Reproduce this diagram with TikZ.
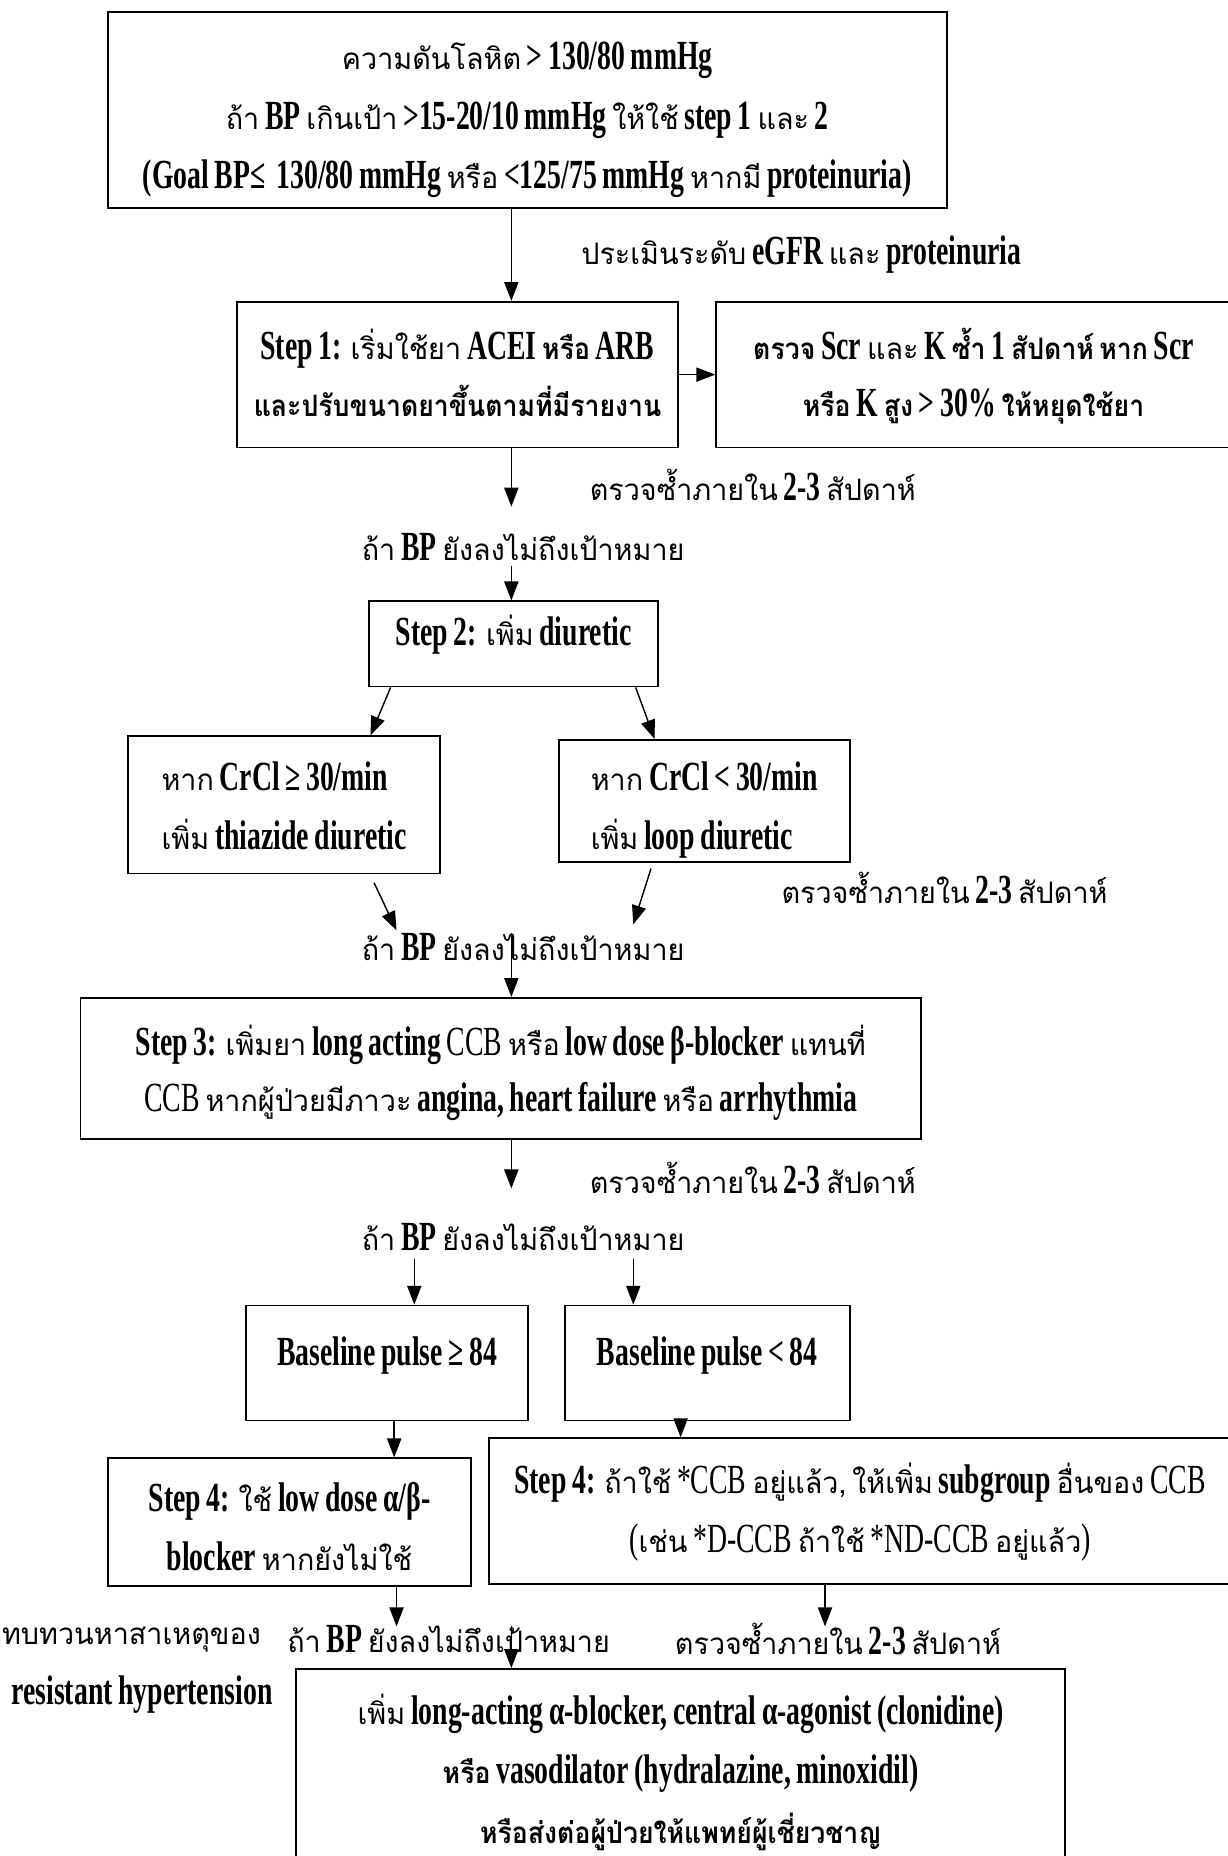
\documentclass[tikz,border=0pt]{standalone}
\usepackage{fontspec}
\usepackage{tikz}
\usetikzlibrary{arrows.meta}
\setmainfont{Loma}[Script=Thai,WordSpace=0.6,FakeStretch=0.97,BoldFeatures={FakeStretch=0.9}]
\newfontfamily\enfont{Liberation Serif}[FakeStretch=0.67,Scale=1.4,WordSpace=0.8]
\newcommand{\en}[1]{{\enfont\bfseries #1}}
\newcommand{\enr}[1]{{\enfont #1}}
\setlength{\lineskiplimit}{-100pt}

\begin{document}
\begin{tikzpicture}[x=1pt,y=-1pt,
  box/.style={draw,line width=1.5pt,inner sep=0pt,align=center,text depth=10pt,
    font=\fontsize{25}{50}\selectfont},
  lbl/.style={inner sep=0pt,font=\fontsize{25}{50}\selectfont},
  arr/.style={line width=1.2pt,-{Triangle[length=16pt,width=12pt]}}]
\useasboundingbox (0,0) rectangle (1037,1568);
%%Spine
\coordinate (axis) at (432,0);

%%Boxes
\node[box,minimum width=709pt,minimum height=166pt,text height=142pt] (bp) at (445.5,93)
  {ความดันโลหิต \en{> 130/80 mmHg}\\
   ถ้า \en{BP} เกินเป้า \en{>15-20/10 mmHg} ให้ใช้ \en{step 1} และ \en{2}\\
   \en{(Goal BP≤ \ 130/80 mmHg} หรือ \en{<125/75 mmHg} หากมี \en{proteinuria)}};
\node[box,minimum width=373pt,minimum height=123pt,text height=81pt,
  font=\fontsize{25}{48}\selectfont] (s1) at (386.5,316.5)
  {\en{Step 1:} เริ่มใช้ยา \en{ACEI} \textbf{หรือ} \en{ARB}\\
   \textbf{และปรับขนาดยาขึ้นตามที่มีรายงาน}};
\node[box,minimum width=435pt,minimum height=123pt,text height=81pt,
  font=\fontsize{25}{48}\selectfont] (scr) at (822.5,316.5)
  {\textbf{ตรวจ} \en{Scr} และ \en{K} \textbf{ซ้ำ} \en{1} \textbf{สัปดาห์ หาก} \en{Scr}\\
   \textbf{หรือ} \en{K} \textbf{สูง} \en{> 30\%} \textbf{ให้หยุดใช้ยา}};
\node[box,minimum width=244pt,minimum height=72pt,text height=20pt,text depth=18pt] (s2) at (434,544)
  {\en{Step 2:} เพิ่ม \en{diuretic}};
\node[box,align=left,minimum width=264pt,minimum height=116pt,text height=86pt] (crl) at (240,680)
  {หาก \en{CrCl ≥ 30/min}\\ เพิ่ม \en{thiazide diuretic}};
\node[box,align=left,minimum width=246pt,minimum height=103pt,text height=91pt,text depth=8pt] (crr) at (595,676.5)
  {หาก \en{CrCl < 30/min}\\ เพิ่ม \en{loop diuretic}};
\node[box,minimum width=710pt,minimum height=119pt,text height=83pt,
  font=\fontsize{25}{47}\selectfont] (s3) at (423,902.5)
  {\en{Step 3:} เพิ่มยา \en{long acting} \enr{CCB} หรือ \en{low dose β-blocker} แทนที่\\
   \enr{CCB} หากผู้ป่วยมีภาวะ \en{angina, heart failure} หรือ \en{arrhythmia}};
\node[box,minimum width=238pt,minimum height=97pt,text height=20pt,text depth=15pt] (ph) at (327,1151.5)
  {\en{Baseline pulse ≥ 84}};
\node[box,minimum width=241pt,minimum height=97pt,text height=20pt,text depth=15pt] (pl) at (597.5,1151.5)
  {\en{Baseline pulse < 84}};
\node[box,minimum width=307pt,minimum height=108pt,text height=92pt] (s4l) at (244.5,1286)
  {\en{Step 4:} ใช้ \en{low dose α/β-}\\ \en{blocker} หากยังไม่ใช้};
\node[box,minimum width=627pt,minimum height=123pt,text height=81pt] (s4r) at (726.5,1276.5)
  {\en{Step 4:} ถ้าใช้ \enr{*CCB} อยู่แล้ว, ให้เพิ่ม \en{subgroup} อื่นของ \enr{CCB}\\
   \enr{(}เช่น \enr{*D-CCB} ถ้าใช้ \enr{*ND-CCB} อยู่แล้ว\enr{)}};
\node[box,minimum width=650pt,minimum height=162pt,text height=142pt] (fin) at (575,1491)
  {เพิ่ม \en{long-acting α-blocker, central α-agonist (clonidine)}\\
   \textbf{หรือ} \en{vasodilator (hydralazine, minoxidil)}\\
   \textbf{หรือส่งต่อผู้ป่วยให้แพทย์ผู้เชี่ยวชาญ}};

%%Labels
\node[lbl] (egfr) at (677,215) {ประเมินระดับ \en{eGFR} และ \en{proteinuria}};
\node[lbl] (chk1) at (636,410) {ตรวจซ้ำภายใน \en{2-3} สัปดาห์};
\node[lbl] (if1) at (442,462) {ถ้า \en{BP} ยังลงไม่ถึงเป้าหมาย};
\node[lbl] (chk2) at (798,750) {ตรวจซ้ำภายใน \en{2-3} สัปดาห์};
\node[lbl] (if2) at (442,800) {ถ้า \en{BP} ยังลงไม่ถึงเป้าหมาย};
\node[lbl] (chk3) at (636,995) {ตรวจซ้ำภายใน \en{2-3} สัปดาห์};
\node[lbl] (if3) at (442,1045) {ถ้า \en{BP} ยังลงไม่ถึงเป้าหมาย};
\node[lbl] (rev1) at (111,1385) {ทบทวนหาสาเหตุของ};
\node[lbl] (rev2) at (120,1432) {\en{resistant hypertension}};
\node[lbl] (if4) at (379,1385) {ถ้า \en{BP} ยังลงไม่ถึงเป้าหมาย};
\node[lbl] (chk4) at (708,1385) {ตรวจซ้ำภายใน \en{2-3} สัปดาห์};

%%Free ends
\coordinate (e3) at (432,428);
\coordinate (e4) at (432,478);
\coordinate (e7) at (335,786);
\coordinate (e8) at (535,781);
\coordinate (e10) at (432,1004);
\coordinate (b11) at (350,1064);
\coordinate (b12) at (535,1064);
\coordinate (e15) at (335,1374);
\coordinate (e16) at (697,1374);

%%Arrows
\draw[arr] (bp.south -| axis) -- (s1.north -| axis);
\draw[arr] (s1.east) -- (scr.west);
\draw[arr] (s1.south -| axis) -- (e3);
\draw[arr] (e4) -- (s2.north -| axis);
\draw[arr] ([xshift=-104pt]s2.south) -- ([xshift=73pt]crl.north);
\draw[arr] ([xshift=103pt]s2.south) -- ([xshift=-42pt]crr.north);
\draw[arr] ([shift={(76,7)}]crl.south) -- (e7);
\draw[arr] ([shift={(-45,5)}]crr.south) -- (e8);
\draw[arr] (if2.north -| axis) -- (s3.north -| axis);
\draw[arr] (s3.south -| axis) -- (e10);
\draw[arr] (b11) -- (b11 |- ph.north);
\draw[arr] (b12) -- (b12 |- pl.north);
\draw[arr] ([xshift=6pt]ph.south) -- ([xshift=6pt]ph.south |- s4l.north);
\draw[arr] ([xshift=-22.5pt]pl.south) -- ([xshift=-22.5pt]pl.south |- s4r.north);
\draw[arr] ([xshift=90.5pt]s4l.south) -- (e15);
\draw[arr] ([xshift=-29.5pt]s4r.south) -- (e16);
\draw[arr] (if4.north -| axis) -- (fin.north -| axis);
\end{tikzpicture}
\end{document}
